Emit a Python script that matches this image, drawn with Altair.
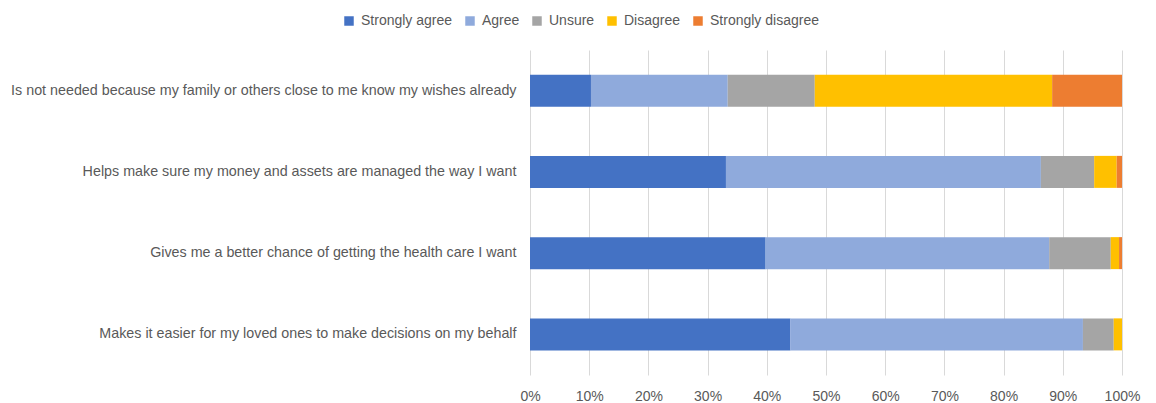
import altair as alt
import pandas as pd

statements = [
    "Is not needed because my family or others close to me know my wishes already",
    "Helps make sure my money and assets are managed the way I want",
    "Gives me a better chance of getting the health care I want",
    "Makes it easier for my loved ones to make decisions on my behalf ",
]
responses = ["Strongly agree", "Agree", "Unsure", "Disagree", "Strongly disagree"]
colors = ["#4472C4", "#8FAADC", "#A5A5A5", "#FFC000", "#ED7D31"]

strongly_agree = [10.3, 33.1, 39.8, 44.0]
agree = [23.1, 53.2, 47.9, 49.4]
unsure = [14.7, 9.0, 10.4, 5.2]
disagree = [40.1, 3.8, 1.4, 1.4]
strongly_disagree = [11.8, 0.9, 0.5, 0.0]

series = [strongly_agree, agree, unsure, disagree, strongly_disagree]
rows = []
for ri, (resp, vals) in enumerate(zip(responses, series)):
    for s, v in zip(statements, vals):
        rows.append({"statement": s, "response": resp, "order": ri, "value": v / 100.0})
df = pd.DataFrame(rows)

font = "Liberation Sans"
grey = "#595959"

chart = (
    alt.Chart(df)
    .mark_bar(size=32)
    .encode(
        x=alt.X(
            "value:Q",
            stack="zero",
            scale=alt.Scale(domain=[0, 1], nice=False),
            axis=alt.Axis(
                format="%",
                values=[i / 10 for i in range(11)],
                title=None,
                domain=False,
                ticks=False,
                grid=True,
                gridColor="#D9D9D9",
                labelFlush=False,
                labelPadding=14,
                labelFontSize=14,
                labelColor=grey,
                labelFont=font,
            ),
        ),
        y=alt.Y(
            "statement:N",
            sort=statements,
            title=None,
            scale=alt.Scale(paddingInner=0.6, paddingOuter=0.3),
            axis=alt.Axis(
                domain=False,
                ticks=False,
                labelPadding=14,
                labelLimit=1000,
                labelFontSize=14.3,
                labelColor=grey,
                labelFont=font,
            ),
        ),
        color=alt.Color(
            "response:N",
            sort=responses,
            scale=alt.Scale(domain=responses, range=colors),
            legend=alt.Legend(
                title=None,
                orient="none",
                direction="horizontal",
                legendX=-188,
                legendY=-36,
                symbolType="square",
                symbolSize=90,
                symbolStrokeWidth=0,
                labelFontSize=14,
                labelColor=grey,
                labelFont=font,
                columnPadding=10,
                labelOffset=5,
            ),
        ),
        order=alt.Order("order:Q", sort="ascending"),
    )
    .properties(
        width=592,
        height=325,
        autosize=alt.AutoSizeParams(type="none"),
        padding={"left": 522, "top": 42, "right": 26, "bottom": 28},
    )
    .configure_view(stroke=None)
)

chart.save("out.html", embed_options={"renderer": "svg", "actions": False})
